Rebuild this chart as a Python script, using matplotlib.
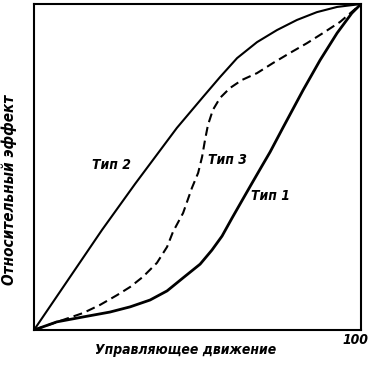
import matplotlib
matplotlib.use("Agg")
import matplotlib.pyplot as plt

# Data (percent of control movement vs relative effect)
type1_x = [0, 7.0, 15.0, 23.2, 29.4, 35.5, 40.7, 45.6, 50.8, 54.4, 57.5, 60.6, 63.9, 66.7, 69.7, 72.2, 76.1, 82.3, 87.5, 92.7, 97.2, 100]
type1_y = [0, 2.5, 4.0, 5.5, 7.1, 9.2, 12.0, 16.0, 20.2, 24.5, 28.8, 34.4, 40.2, 45.1, 50.3, 54.6, 62.0, 73.6, 82.8, 91.1, 97.2, 100]

type2_x = [0, 20.8, 30.9, 43.7, 51.7, 56.9, 62.1, 68.2, 74.3, 80.4, 86.5, 92.7, 100]
type2_y = [0, 30.7, 44.8, 62.0, 71.5, 77.6, 83.4, 88.3, 92.0, 95.1, 97.5, 99.1, 100]

type3_x = [0, 8.9, 15.0, 20.2, 25.4, 29.4, 33.3, 37.6, 40.7, 42.5, 45.6, 48.3, 50.2, 51.4, 52.3, 53.2, 54.7, 56.9, 59.9, 63.6, 68.2, 73.1, 78.3, 83.5, 88.4, 93.6, 100]
type3_y = [0, 3.1, 5.2, 7.7, 10.7, 13.2, 16.3, 20.6, 25.5, 30.1, 35.9, 43.6, 48.2, 53.1, 58.3, 62.9, 67.5, 71.2, 74.2, 76.7, 78.8, 81.9, 85.0, 88.0, 91.1, 94.5, 100]

labels = ["Тип 1", "Тип 2", "Тип 3"]
x_label = "Управляющее движение"
y_label = "Относительный эффект"
x_tick_label = "100"

fam = ["DejaVu Sans Condensed", "DejaVu Sans"]
tkw = dict(fontweight="bold", style="italic", family=fam, stretch="condensed")

fig = plt.figure(figsize=(3.70, 3.68), dpi=100)
ax = fig.add_axes([34 / 370, 1 - 330 / 368, 327 / 370, 326 / 368])

ax.plot(type1_x, type1_y, color="black", lw=2.0, solid_capstyle="round", solid_joinstyle="round")
ax.plot(type2_x, type2_y, color="black", lw=1.5, solid_capstyle="round", solid_joinstyle="round")
ax.plot(type3_x, type3_y, color="black", lw=1.5, dashes=(4.3, 2.4))

ax.set_xlim(0, 100)
ax.set_ylim(0, 100)
ax.set_xticks([])
ax.set_yticks([])
for s in ax.spines.values():
    s.set_linewidth(1.5)

def to_data(px, py):
    return (px - 34) / 327 * 100, (330 - py) / 326 * 100

for lab, (px, py) in zip(labels, [(270, 196), (111, 165), (227, 160)]):
    dx, dy = to_data(px, py)
    ax.text(dx, dy, lab, fontsize=10, ha="center", va="center", **tkw)

fig.text(368 / 370, 1 - 340 / 368, x_tick_label, fontsize=10, ha="right", va="center", **tkw)
fig.text(186 / 370, 1 - 350 / 368, x_label, fontsize=10, ha="center", va="center", **tkw)
fig.text(9 / 370, 1 - 190 / 368, y_label, fontsize=11, ha="center", va="center", rotation=90, **tkw)

fig.savefig("out.png", dpi=100)
